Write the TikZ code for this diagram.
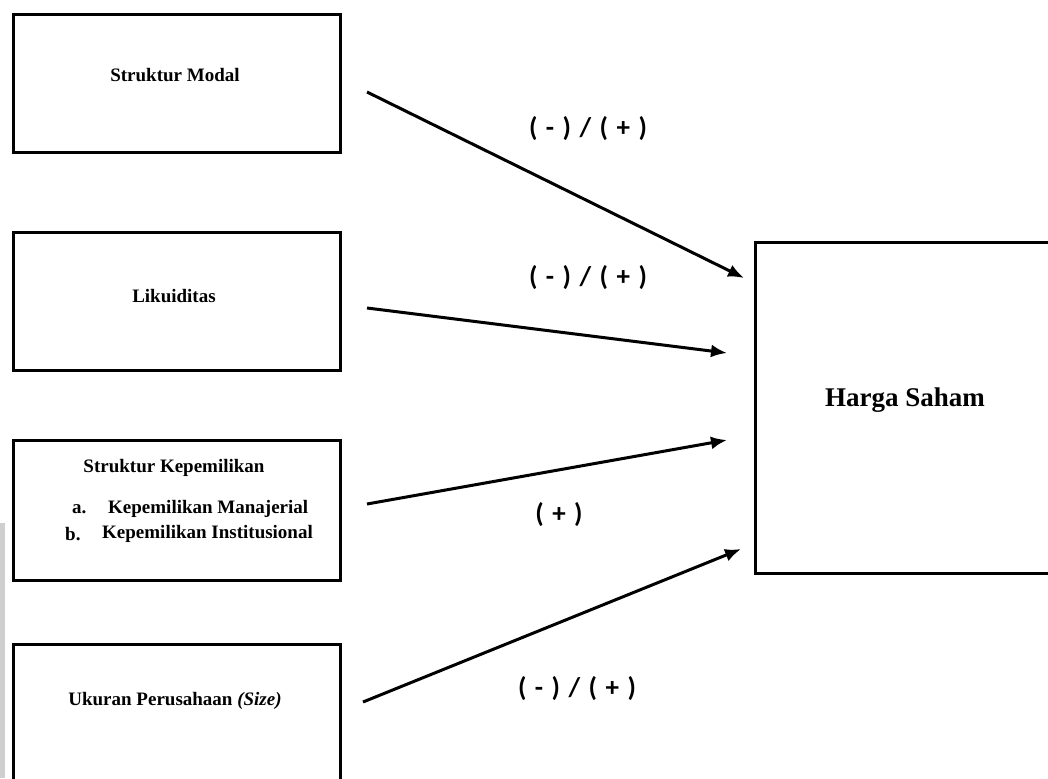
\documentclass[tikz,border=0pt]{standalone}
\usepackage{fontspec}
\setmainfont{Liberation Serif}
\newfontfamily\labfont{Carlito}
\newcommand\widesp{\spaceskip 8.5pt\relax}
\usetikzlibrary{arrows.meta}
\tikzset{
  box/.style={draw=black, line width=3.2pt, fill=white, inner sep=0pt, anchor=north west},
  arr/.style={line width=3pt, -{Latex[length=16pt,width=13pt]}},
  boxtext/.style={font=\fontsize{19}{22}\selectfont\bfseries, inner sep=0pt},
  sign/.style={font={\labfont\fontsize{27}{30}\selectfont\bfseries\widesp}, inner sep=0pt}
}
\begin{document}
\begin{tikzpicture}[x=1pt,y=-1pt]
\useasboundingbox (0,0) rectangle (1048,778);
\clip (0,0) rectangle (1048,778);
\fill[white] (0,0) rectangle (1048,778);
% gray strip at left edge
\fill[gray!38] (0,523) rectangle (5,778);
% boxes
\node[box, minimum width=327pt, minimum height=138pt] (sm) at (12,13) {};
\node[box, minimum width=327pt, minimum height=138pt] (lk) at (12,231) {};
\node[box, minimum width=327pt, minimum height=140pt] (sk) at (12,439) {};
\node[box, minimum width=327pt, minimum height=140pt] (up) at (12,643) {};
\node[box, minimum width=320pt, minimum height=331pt] (hs) at (754,241) {};
% texts
\node[boxtext] (tsm) at (175,75) {Struktur Modal};
\node[boxtext] (tlk) at (174,296) {Likuiditas};
\node[boxtext] (tsk) at (174,468) {Struktur Kepemilikan};
\node[boxtext, anchor=west] (la) at (72,509) {a.};
\node[boxtext, anchor=west] (ia) at (108,509) {Kepemilikan Manajerial};
\node[boxtext, anchor=west] (lb) at (65,534) {b.};
\node[boxtext, anchor=west] (ib) at (102,534) {Kepemilikan Institusional};
\node[boxtext] (tup) at (175,701) {Ukuran Perusahaan \textit{(Size)}};
\node[font=\fontsize{27}{32}\selectfont\bfseries, inner sep=0pt] (ths) at (905,400) {Harga Saham};
% arrow end points
\coordinate (s1) at (367,92);
\coordinate (e1) at (744,278);
\coordinate (s2) at (367,308);
\coordinate (e2) at (727,353);
\coordinate (s3) at (367,504);
\coordinate (e3) at (727,440);
\coordinate (s4) at (363,702);
\coordinate (e4) at (741,549);
\draw[arr] (s1) -- (e1);
\draw[arr] (s2) -- (e2);
\draw[arr] (s3) -- (e3);
\draw[arr] (s4) -- (e4);
% signs
\node[sign] (l1) at (588,129) {( - ) / ( + )};
\node[sign] (l2) at (588,278) {( - ) / ( + )};
\node[sign] (l3) at (559,515) {( + )};
\node[sign] (l4) at (577,689) {( - ) / ( + )};
\end{tikzpicture}
\end{document}
